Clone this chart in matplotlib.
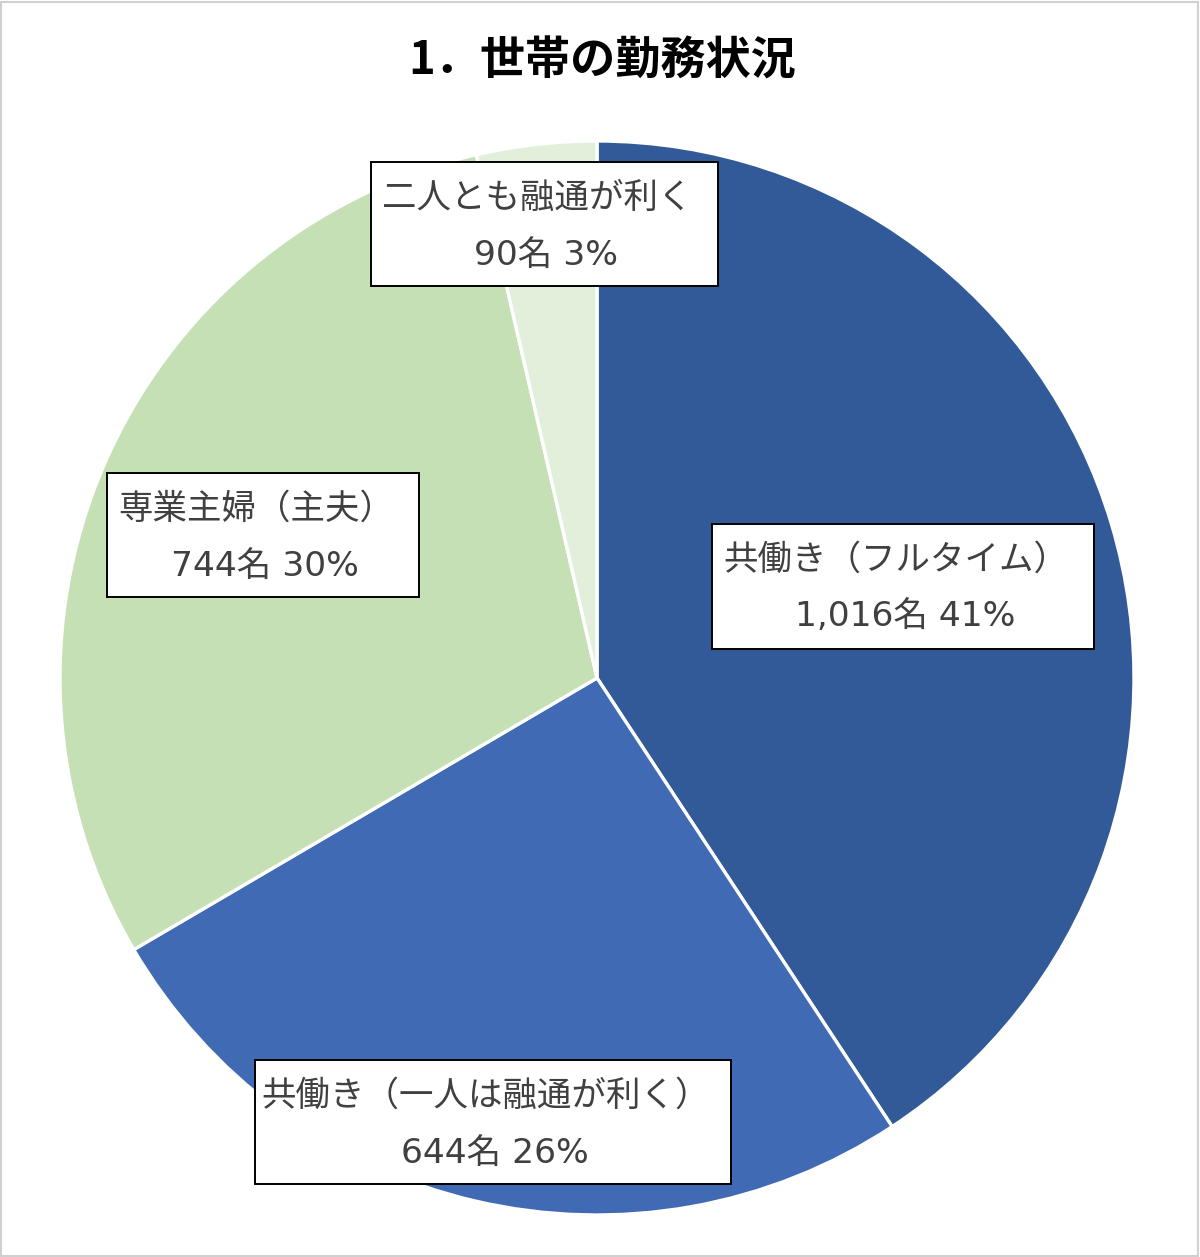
import matplotlib
matplotlib.use("Agg")
import matplotlib.pyplot as plt
from matplotlib.patches import Rectangle

plt.rcParams['font.family'] = ['Noto Sans CJK JP', 'DejaVu Sans']

title = "1．世帯の勤務状況"
categories = ["共働き（フルタイム）", "共働き（一人は融通が利く）", "専業主婦（主夫）", "二人とも融通が利く"]
counts = [1016, 644, 744, 90]
count_labels = ["1,016名", "644名", "744名", "90名"]
pct_labels = ["41%", "26%", "30%", "3%"]
colors = ["#335A98", "#416AB5", "#C5E0B4", "#E2EFDA"]

W, H = 1200, 1257
fig = plt.figure(figsize=(W / 100, H / 100), dpi=100)
ax = fig.add_axes([0, 0, 1, 1])

cx, cy, r = 597, H - 678, 537
ax.pie(counts, colors=colors, startangle=90, counterclock=False,
       center=(cx, cy), radius=r,
       wedgeprops=dict(edgecolor="white", linewidth=2.4), frame=True)
ax.set_xlim(0, W)
ax.set_ylim(0, H)
ax.set_aspect('equal')
ax.axis('off')

# outer frame
ax.add_patch(Rectangle((1, 1), W - 3, H - 3, fill=False, ec="#D0D0D0", lw=1.5))

ax.text(602, H - 62, title, ha='center', va='center', fontsize=32.5,
        fontweight='bold', color='black')

# label boxes (x0, x1, ytop, ybottom in image pixels)
boxes = [(712, 1094, 524, 649), (255, 731, 1060, 1184),
         (107, 419, 473, 597), (371, 718, 162, 286)]
txt_color = "#404040"
fs = 24.8
for cat, cnt, pct, (x0, x1, yt, yb) in zip(categories, count_labels, pct_labels, boxes):
    ax.add_patch(Rectangle((x0, H - yb), x1 - x0, yb - yt, fc="white",
                           ec="black", lw=1.4, zorder=5))
    xm = (x0 + x1) / 2
    ax.text(xm - 7, H - (yt + 36), cat, ha='center', va='center',
            fontsize=fs, color=txt_color, zorder=6)
    ax.text(xm + 2, H - (yt + 93), f"{cnt} {pct}", ha='center', va='center',
            fontsize=fs, color=txt_color, zorder=6,
            family=['DejaVu Sans', 'Noto Sans CJK JP'])

fig.savefig("out.png", dpi=100)
